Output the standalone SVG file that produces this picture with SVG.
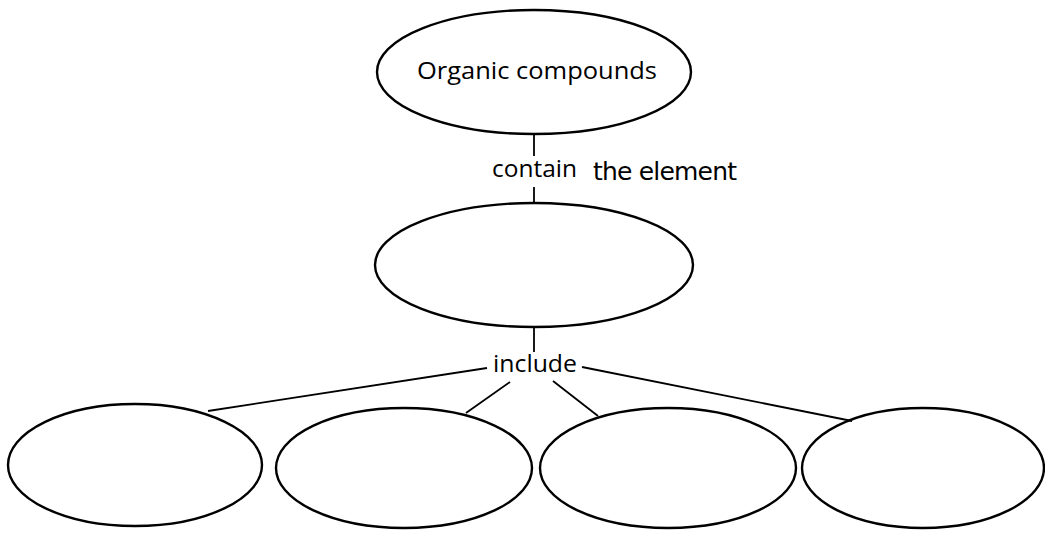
<svg xmlns="http://www.w3.org/2000/svg" width="1045" height="534" viewBox="0 0 1045 534">
  <style>
    .node { fill: none; stroke: #000; stroke-width: 2.4; }
    .edge { fill: none; stroke: #000; stroke-width: 1.8; }
    .label { font-family: "Open Sans", "Noto Sans", sans-serif; fill: #000; }
    .hand { font-family: "DejaVu Sans", sans-serif; fill: #000; }
  </style>
  <rect width="1045" height="534" fill="#fff"/>

  <g id="connectors">
    <line class="edge" x1="534" y1="135" x2="534" y2="156"/>
    <line class="edge" x1="534" y1="187" x2="534" y2="203"/>
    <line class="edge" x1="534" y1="327" x2="534" y2="352"/>
    <line class="edge" x1="487" y1="368" x2="208" y2="411"/>
    <line class="edge" x1="510" y1="382" x2="466" y2="413"/>
    <line class="edge" x1="553" y1="381" x2="598" y2="416"/>
    <line class="edge" x1="582" y1="367" x2="852" y2="421"/>
    <text class="label" x="492" y="177" font-size="23" textLength="85" lengthAdjust="spacingAndGlyphs">contain</text>
    <text class="label" x="493" y="372" font-size="23" textLength="84" lengthAdjust="spacingAndGlyphs">include</text>
    <!-- handwritten answer next to the link label -->
    <text class="hand" x="593" y="180" font-size="25" textLength="144" lengthAdjust="spacing">the element</text>
  </g>

  <g id="organic-compounds">
    <ellipse class="node" cx="534" cy="72" rx="157" ry="62"/>
    <text class="label" x="417" y="79" font-size="23" textLength="240" lengthAdjust="spacingAndGlyphs">Organic compounds</text>
  </g>

  <g id="element">
    <ellipse class="node" cx="534" cy="265" rx="159" ry="62"/>
  </g>

  <g id="compound-1">
    <ellipse class="node" cx="135" cy="465" rx="127" ry="61"/>
  </g>
  <g id="compound-2">
    <ellipse class="node" cx="404" cy="468" rx="128" ry="60"/>
  </g>
  <g id="compound-3">
    <ellipse class="node" cx="668" cy="468" rx="128" ry="60"/>
  </g>
  <g id="compound-4">
    <ellipse class="node" cx="923" cy="468" rx="121" ry="60"/>
  </g>
</svg>
